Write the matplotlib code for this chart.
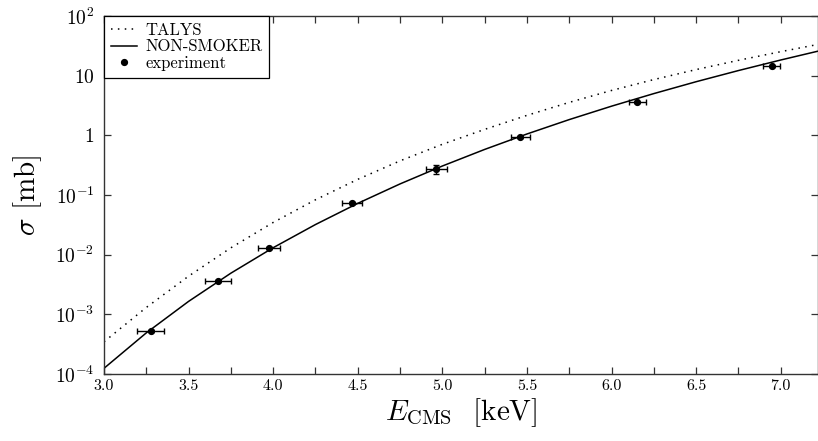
import numpy as np
import matplotlib
matplotlib.use("Agg")
import matplotlib.pyplot as plt
from matplotlib.ticker import MultipleLocator, FixedLocator, NullLocator

plt.rcParams['font.family'] = 'serif'
plt.rcParams['font.serif'] = ['cmr10']
plt.rcParams['mathtext.fontset'] = 'cm'
plt.rcParams['axes.formatter.use_mathtext'] = True

# model curves, energy in keV, sigma in mb
e_model = [3.0, 3.25, 3.5, 3.75, 4.0, 4.25, 4.5, 4.75, 5.0, 5.25,
           5.5, 5.75, 6.0, 6.25, 6.5, 6.75, 7.0, 7.22]
sigma_nonsmoker = [1.245e-4, 4.887e-4, 1.648e-3, 4.898e-3, 1.309e-2,
                   3.199e-2, 7.244e-2, 0.1535, 0.3062, 0.5808, 1.054,
                   1.837, 3.083, 5.012, 7.925, 12.19, 18.32, 25.76]
sigma_talys = [3.467e-4, 1.303e-3, 4.365e-3, 1.303e-2, 3.467e-2,
               8.318e-2, 0.1831, 0.3737, 0.7079, 1.259, 2.163, 3.568,
               5.655, 8.610, 12.66, 18.09, 25.26, 33.39]

# experimental points
e_exp = [3.276, 3.673, 3.975, 4.465, 4.965, 5.459, 6.152, 6.946]
e_err = [0.079, 0.076, 0.067, 0.061, 0.061, 0.056, 0.051, 0.052]
sigma_exp = [5.3e-4, 3.57e-3, 1.29e-2, 7.3e-2, 0.272, 0.933, 3.56, 14.3]
sigma_err = [2e-5, 1.5e-4, 5e-4, 3e-3, 0.045, 0.03, 0.12, 0.5]

ytick_vals = [1e-4, 1e-3, 1e-2, 1e-1, 1, 10, 100]
ytick_labels = [r'$10^{-4}$', r'$10^{-3}$', r'$10^{-2}$', r'$10^{-1}$',
                r'$1$', r'$10$', r'$10^{2}$']
xtick_vals = [3.0, 3.5, 4.0, 4.5, 5.0, 5.5, 6.0, 6.5, 7.0]

fig = plt.figure(figsize=(8.18, 4.41), dpi=100)
ax = fig.add_axes([0.1271, 0.1519, 0.8729, 0.8118])

ax.plot(e_model, sigma_talys, color='black', lw=1.1, ls=(0, (1, 3.5)),
        label='TALYS')
ax.plot(e_model, sigma_nonsmoker, color='black', lw=1.1, label='NON-SMOKER')
ax.errorbar(e_exp, sigma_exp, xerr=e_err, yerr=sigma_err, fmt='none',
            ecolor='black', elinewidth=1.0, capsize=2.4, capthick=1.0)
ax.plot(e_exp, sigma_exp, 'o', color='black', ms=4.2, ls='none',
        label='experiment')

ax.set_yscale('log')
ax.set_xlim(3.0, 7.22)
ax.set_ylim(1e-4, 1e2)

ax.yaxis.set_major_locator(FixedLocator(ytick_vals))
ax.yaxis.set_minor_locator(NullLocator())
ax.set_yticklabels(ytick_labels)
ax.xaxis.set_major_locator(FixedLocator(xtick_vals))
ax.xaxis.set_minor_locator(MultipleLocator(0.25))
ax.set_xticklabels([f'{v:.1f}' for v in xtick_vals])

for s in ax.spines.values():
    s.set_color('#333333')
    s.set_linewidth(1.0)
ax.tick_params(which='both', direction='in', top=True, right=True,
               length=4.8, width=0.9, color='#333333')
ax.tick_params(axis='x', labelsize=11.5, pad=4)
ax.tick_params(axis='y', labelsize=14, pad=7)

ax.set_xlabel(r'$E_{\mathrm{CMS}}$  [keV]', fontsize=21, labelpad=2)
ax.set_ylabel(r'$\sigma$ [mb]', fontsize=21, labelpad=8)

leg = ax.legend(loc='upper left', fontsize=12, frameon=True, fancybox=False,
                borderaxespad=0, handlelength=1.55, handletextpad=0.5,
                labelspacing=0.05, borderpad=0.42, framealpha=1)
leg.get_frame().set_edgecolor('black')
leg.get_frame().set_linewidth(0.9)

fig.savefig('out.png', dpi=100)
